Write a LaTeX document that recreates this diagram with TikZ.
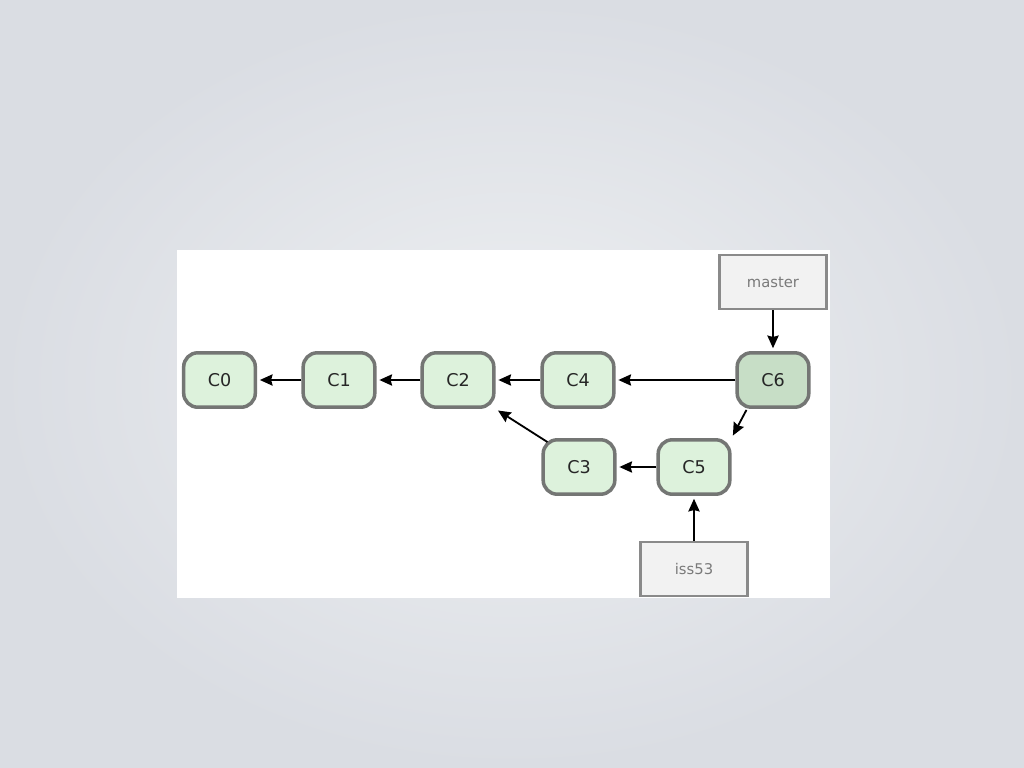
\documentclass[tikz,border=0pt]{standalone}
\usepackage{fontspec}
\setmainfont{DejaVu Sans}
\usepackage{xcolor}
\usetikzlibrary{arrows.meta,shapes}
\definecolor{commitfill}{HTML}{DDF2DC}
\definecolor{headfill}{HTML}{C7DEC6}
\definecolor{commitline}{HTML}{747674}
\definecolor{branchfill}{HTML}{F2F2F2}
\definecolor{branchline}{HTML}{8A8A8A}
\definecolor{branchtext}{HTML}{7A7A7A}
\definecolor{bginner}{HTML}{EEF0F2}
\definecolor{bgouter}{HTML}{DADDE3}

\begin{document}
\begin{tikzpicture}[x=0.025cm,y=-0.025cm,>={Stealth[length=9pt,width=8pt,inset=1pt]},
commit/.style={draw=commitline,line width=2.5pt,fill=commitfill,rounded corners=10pt,
  minimum width=1.79cm,minimum height=1.36cm,font=\fontsize{12.5}{14}\selectfont,text=black!85},
branch/.style={draw=branchline,line width=2pt,fill=branchfill,minimum width=2.68cm,
  minimum height=1.35cm,font=\fontsize{10.5}{12}\selectfont,text=branchtext},
link/.style={->,line width=1.3pt,shorten >=2pt}]
% background and panel
\fill[inner color=bginner,outer color=bgouter](0,0)rectangle(1024,768);
\fill[white](177,250)rectangle(830,598);
% commits
\node[commit](c0)at(219.5,380){C0};
\node[commit](c1)at(339,380){C1};
\node[commit](c2)at(458,380){C2};
\node[commit](c4)at(578,380){C4};
\node[commit,fill=headfill](c6)at(773,380){C6};
\node[commit](c3)at(579,467){C3};
\node[commit](c5)at(694,467){C5};
% branches
\node[branch](master)at(773,282){master};
\node[branch](iss53)at(694,569){iss53};
% parents
\coordinate(c3a)at([shift={(6,4)}]c3.north west);
\coordinate(c6a)at([shift={(11,1)}]c6.south west);
\draw[link](c1)--(c0);
\draw[link](c2)--(c1);
\draw[link](c4)--(c2);
\draw[link](c6)--(c4);
\draw[link](c5)--(c3);
\draw[link](c3a)--(c2.south east);
\draw[link](c6a)--(c5.north east);
\draw[link](master)--(c6);
\draw[link](iss53)--(c5);
\end{tikzpicture}
\end{document}
